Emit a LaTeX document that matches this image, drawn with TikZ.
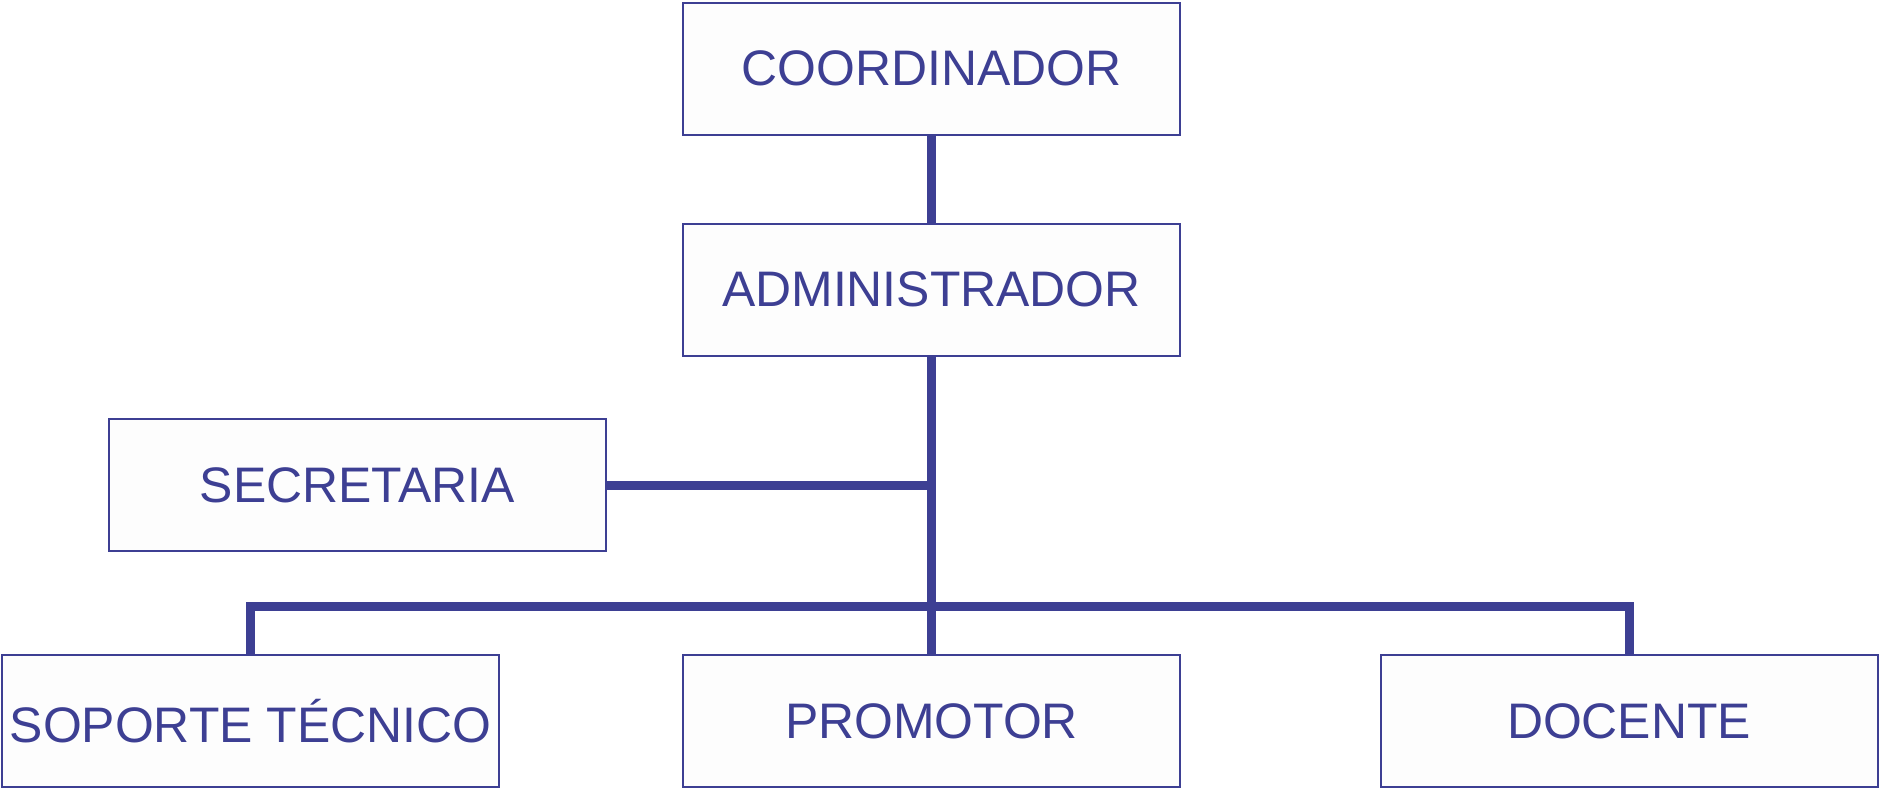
\documentclass[tikz,border=0pt]{standalone}
\usepackage{fontspec}
\setmainfont{Liberation Sans}
\usepackage{xcolor}
\usepackage{tikz}
\definecolor{navy}{HTML}{3D3F93}
\definecolor{paper}{HTML}{FDFDFD}
\tikzset{
  cargo/.style={draw=navy, fill=paper, line width=0.57pt, minimum width=4.97cm, minimum height=1.32cm, inner sep=0pt, text=navy, font=\fontsize{14.2}{16}\selectfont},
  enlace/.style={draw=navy, line width=2.55pt},
}
\begin{document}
\begin{tikzpicture}
  \useasboundingbox (0,0) rectangle (18.8,-7.9);
  \node[cargo] (coord) at (9.315,-0.685) {COORDINADOR};
  \node[cargo] (admin) at (9.315,-2.895) {ADMINISTRADOR};
  \node[cargo] (secr) at (3.575,-4.85) {SECRETARIA};
  \node[cargo] (sop) at (2.505,-7.21) {SOPORTE TÉCNICO};
  \node[cargo] (prom) at (9.315,-7.21) {PROMOTOR};
  \node[cargo] (doc) at (16.29,-7.21) {DOCENTE};
  \coordinate (busL) at (sop.north |- 0,-6.065);
  \coordinate (busR) at (doc.north |- 0,-6.065);
  \draw[enlace] (coord.south) -- (admin.north);
  \draw[enlace] (admin.south) -- (prom.north);
  \draw[enlace] (secr.east) -- (secr.east -| admin.south);
  \draw[enlace] (sop.north) -- (busL) -- (busR) -- (doc.north);
\end{tikzpicture}
\end{document}
